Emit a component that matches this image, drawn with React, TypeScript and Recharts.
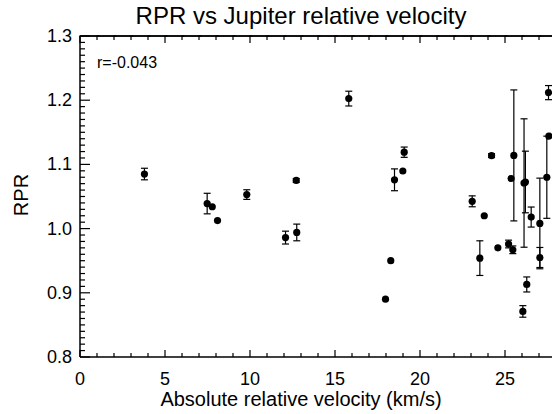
import React from 'react';
import { ScatterChart, Scatter, XAxis, YAxis, ErrorBar, Label } from 'recharts';

// values
const velocity = [
  3.79, 7.48, 7.78, 8.09, 9.81, 12.72, 12.09, 12.75, 15.81, 19.07, 18.99,
  18.5, 17.97, 18.28, 23.07, 23.78, 23.52, 24.21, 24.58, 25.21, 25.46, 25.52,
  25.36, 26.12, 26.2, 26.54, 27.05, 27.05, 26.28, 26.05, 27.56, 27.58, 27.46,
];
const rpr = [
  1.085, 1.039, 1.034, 1.0125, 1.053, 1.075, 0.986, 0.994, 1.2025, 1.119, 1.0897,
  1.076, 0.89, 0.95, 1.0425, 1.02, 0.954, 1.1137, 0.97, 0.976, 0.967, 1.114,
  1.078, 1.071, 1.0726, 1.018, 1.008, 0.955, 0.913, 0.871, 1.2118, 1.144, 1.08,
];
const rprErr = [
  0.009, 0.016, 0, 0, 0.0075, 0.003, 0.01, 0.013, 0.0115, 0.008, 0,
  0.017, 0, 0, 0.0085, 0, 0.027, 0.003, 0, 0.006, 0.006, 0.102,
  0, 0.1, 0.048, 0.0156, 0.0706, 0.0156, 0.0117, 0.009, 0.011, 0, 0.064,
];

const xMajor = [0, 5, 10, 15, 20, 25];
const yMajor = [0.8, 0.9, 1.0, 1.1, 1.2, 1.3];
const corrLabel = 'r=-0.043';

// minor ticks every 1 km/s and every 0.01 in RPR
const xTicks = Array.from({ length: 29 }, (_, i) => i);
const yTicks = Array.from({ length: 51 }, (_, i) => Math.round((0.8 + i * 0.01) * 100) / 100);

const data = velocity.map((v, i) => ({ v, rpr: rpr[i], err: rprErr[i] }));

const FONT = '"Liberation Sans", Arial, Helvetica, sans-serif';
const INK = '#000';
const axisLine = { stroke: INK, strokeWidth: 1.5 };

const isMajorX = (v: number) => xMajor.includes(v);
const isMajorY = (v: number) => yMajor.some((m) => Math.abs(m - v) < 1e-6);

function BottomTick(props: any) {
  const { x, y, payload } = props;
  const len = isMajorX(payload.value) ? 7 : 4;
  return (
    <g>
      <rect x={x - 0.6} y={y - len} width={1.2} height={len} fill={INK} />
      {isMajorX(payload.value) && (
        <text x={x} y={y + 28} textAnchor="middle" fontSize={18} fontFamily={FONT} fill="#000" stroke="none">
          {payload.value}
        </text>
      )}
    </g>
  );
}

// top frame: tick plus a short run of the frame line up to the next tick
function TopTick(props: any) {
  const { x, y, payload } = props;
  const len = isMajorX(payload.value) ? 7 : 4;
  return (
    <g>
      <rect x={x - 0.6} y={y} width={1.2} height={len} fill={INK} />
      <rect x={x - 0.6} y={y - 0.7} width={20} height={1.4} fill={INK} />
    </g>
  );
}

function LeftTick(props: any) {
  const { x, y, payload } = props;
  const major = isMajorY(payload.value);
  const len = major ? 10 : 5;
  return (
    <g>
      <rect x={x} y={y - 0.6} width={len} height={1.2} fill={INK} />
      {major && (
        <text x={x - 8} y={y + 6} textAnchor="end" fontSize={18} fontFamily={FONT} fill="#000" stroke="none">
          {payload.value.toFixed(1)}
        </text>
      )}
    </g>
  );
}

const Dot = (props: any) => <circle cx={props.cx} cy={props.cy} r={3.6} fill="#000" />;

export default function App() {
  return (
    <div
      style={{
        position: 'absolute', left: 0, top: 0, width: 552, height: 414,
        overflow: 'hidden', background: '#fff', fontFamily: FONT,
      }}
    >
      <ScatterChart width={600} height={414} margin={{ top: 35, right: 10, bottom: 0, left: 0 }}>
        <XAxis
          xAxisId="bottom" type="number" dataKey="v" domain={[0, 30]} ticks={xTicks}
          interval={0} tickSize={0} tickMargin={0} tickLine={false} tick={<BottomTick />}
          height={57} axisLine={axisLine} allowDataOverflow
        >
          <Label
            content={() => (
              <text x={301} y={406} textAnchor="middle" fontSize={20} fontFamily={FONT} fill="#000">
                Absolute relative velocity (km/s)
              </text>
            )}
          />
        </XAxis>
        <XAxis
          xAxisId="top" orientation="top" type="number" dataKey="v" domain={[0, 30]} ticks={xTicks}
          interval={0} tickSize={0} tickMargin={0} tickLine={false} tick={<TopTick />}
          height={1} axisLine={axisLine} allowDataOverflow
        />
        <YAxis
          type="number" dataKey="rpr" domain={[0.8, 1.3]} ticks={yTicks} interval={0}
          tickSize={0} tickMargin={0} tickLine={false} tick={<LeftTick />}
          width={80} axisLine={axisLine} allowDataOverflow
        >
          <Label
            content={() => (
              <text
                x={28} y={195} textAnchor="middle" fontSize={20} fontFamily={FONT} fill="#000"
                transform="rotate(-90 28 195)"
              >
                RPR
              </text>
            )}
          />
        </YAxis>
        <Scatter data={data} xAxisId="bottom" shape={<Dot />} isAnimationActive={false}>
          <ErrorBar dataKey="err" direction="y" width={3.5} stroke="#000" strokeWidth={1.2} isAnimationActive={false} />
        </Scatter>
      </ScatterChart>
      <svg
        width={552} height={414}
        style={{ position: 'absolute', left: 0, top: 0, pointerEvents: 'none' }}
      >
        <text x={301} y={24} textAnchor="middle" fontSize={24} fontFamily={FONT} fill="#000">
          RPR vs Jupiter relative velocity
        </text>
        <text x={97} y={68} fontSize={16} fontFamily={FONT} fill="#000">
          {corrLabel}
        </text>
      </svg>
    </div>
  );
}
